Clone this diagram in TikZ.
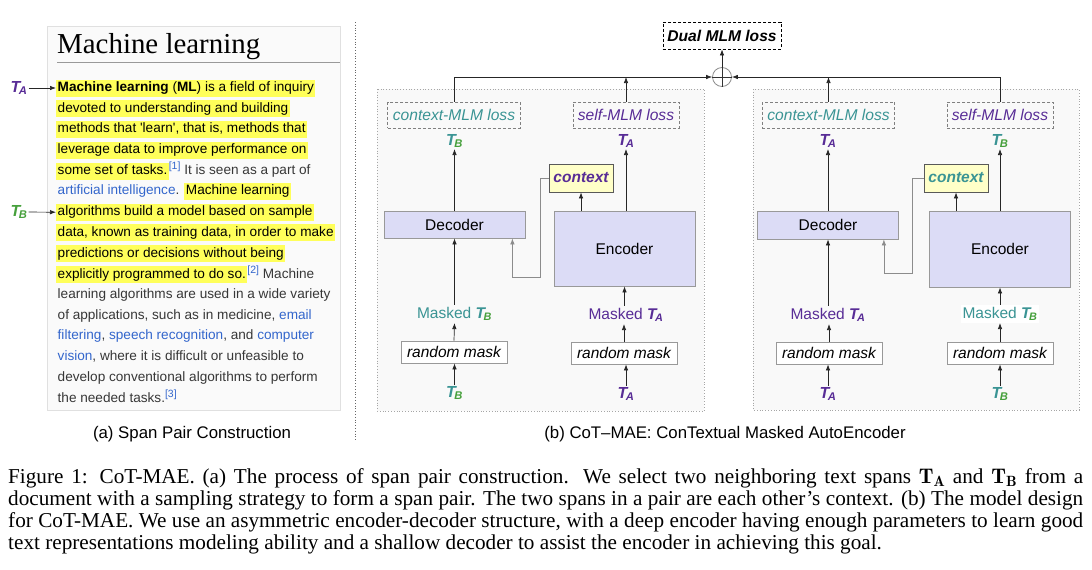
\documentclass[tikz,border=0pt]{standalone}
\usepackage{fontspec}
\usetikzlibrary{arrows.meta}
\newfontfamily\sansfam{Liberation Sans}
\newfontfamily\capfam{Liberation Serif}
\definecolor{tpurple}{RGB}{88,44,150}
\definecolor{tteal}{RGB}{58,148,148}
\definecolor{tgreen}{RGB}{70,160,60}
\definecolor{hlyellow}{RGB}{255,255,90}
\definecolor{wikiblue}{RGB}{51,102,204}
\definecolor{wikitext}{RGB}{55,55,55}
\definecolor{lav}{RGB}{220,220,246}
\definecolor{ctxfill}{RGB}{255,255,200}
\definecolor{panelbg}{RGB}{249,249,249}
\newcommand{\TA}{{\bfseries\itshape\color{tpurple}T\kern-1.5pt\textsubscript{A}}}
\newcommand{\TB}[1][tteal]{{\bfseries\itshape\textcolor{#1}{T}\kern-1.5pt\textsubscript{\color{tgreen}B}}}
\newcommand{\hlt}[1]{{\setlength{\fboxsep}{0pt}\colorbox{hlyellow}{\kern1.5pt\color{black}\strut#1\kern1.5pt}}}
\newcommand{\wlink}[1]{\textcolor{wikiblue}{#1}}
\newcommand{\wref}[1]{\raisebox{5pt}{\fontsize{10.5}{12}\selectfont\color{wikiblue}[#1]}}
\tikzset{
	wline/.style={anchor=west,inner sep=0pt,text=wikitext,font=\sansfam\fontsize{13.6}{17}\selectfont,execute at begin node=\strut},
	arr/.style={-{Latex[length=6pt,width=4.5pt]},draw=black!85,line width=0.7pt},
	route/.style={arr,draw=black!45},
	panel/.style={fill=panelbg,draw=black!35,dotted,line width=0.8pt},
	lossbox/.style={draw=black!50,dash pattern=on 3pt off 2pt,line width=0.8pt,minimum height=26pt,inner xsep=5pt,font=\sansfam\itshape\fontsize{15.6}{18}\selectfont},
	coder/.style={fill=lav,draw=black!40,line width=0.8pt,minimum width=141pt,font=\sansfam\fontsize{15.5}{18}\selectfont},
	ctxbox/.style={fill=ctxfill,draw=black!65,line width=0.8pt,minimum width=64pt,minimum height=28pt,inner sep=0pt,font=\sansfam\bfseries\itshape\fontsize{15.5}{18}\selectfont},
	maskbox/.style={fill=white,draw=black!40,line width=0.8pt,minimum width=106pt,minimum height=22pt,inner sep=0pt,font=\sansfam\itshape\fontsize{15.5}{18}\selectfont},
	tlab/.style={inner sep=1pt,font=\sansfam\fontsize{16}{18}\selectfont},
	mlab/.style={inner sep=2pt,font=\sansfam\fontsize{15.5}{18}\selectfont}
}
\begin{document}
\begin{tikzpicture}[x=1pt,y=-1pt]
\useasboundingbox (0,0) rectangle (1092,570);

\draw[fill=black!2,draw=black!12] (47,26) rectangle (340,410);
\node[anchor=base west,inner sep=0pt,font=\capfam\fontsize{28.9}{30}\selectfont] (title) at (57,53) {Machine learning};
\draw[black!40] (57,62) -- (340,62);
\node[wline] (l1) at (56,88) {\hlt{\textbf{Machine learning} (\textbf{ML}) is a field of inquiry}};
\node[wline] (l2) at (56,108.7) {\hlt{devoted to understanding and building}};
\node[wline] (l3) at (56,129.4) {\hlt{methods that 'learn', that is, methods that}};
\node[wline] (l4) at (56,150.1) {\hlt{leverage data to improve performance on}};
\node[wline] (l5) at (56,170.8) {\hlt{some set of tasks.}\wref{1} It is seen as a part of};
\node[wline] (l6) at (56,191.5) {\kern1.5pt\wlink{artificial intelligence}. \hlt{Machine learning}};
\node[wline] (l7) at (56,212.2) {\hlt{algorithms build a model based on sample}};
\node[wline] (l8) at (56,232.9) {\hlt{data, known as training data, in order to make}};
\node[wline] (l9) at (56,253.6) {\hlt{predictions or decisions without being}};
\node[wline] (l10) at (56,274.3) {\hlt{explicitly programmed to do so.}\wref{2} Machine};
\node[wline] (l11) at (56,295) {\kern1.5pt learning algorithms are used in a wide variety};
\node[wline] (l12) at (56,315.7) {\kern1.5pt of applications, such as in medicine, \wlink{email}};
\node[wline] (l13) at (56,336.4) {\kern1.5pt\wlink{filtering}, \wlink{speech recognition}, and \wlink{computer}};
\node[wline] (l14) at (56,357.1) {\kern1.5pt\wlink{vision}, where it is difficult or unfeasible to};
\node[wline] (l15) at (56,377.8) {\kern1.5pt develop conventional algorithms to perform};
\node[wline] (l16) at (56,398.5) {\kern1.5pt the needed tasks.\wref{3}};
\node[tlab] (mA) at (19,88) {\TA};
\node[tlab] (mB) at (19,212) {\TB[tgreen]};
\draw[arr] (mA) -- (l1.west);
\draw[arr] (mB) -- (l7.west);
\node[font=\sansfam\fontsize{16.8}{18}\selectfont] (capa) at (192,434) {(a) Span Pair Construction};

\draw[black!60,dotted,line width=0.8pt] (355,22) -- (355,440);

\draw[panel] (377,89) rectangle (704,411);
\draw[panel] (753,89) rectangle (1079,410);

\node[draw=black,dash pattern=on 3pt off 2pt,line width=0.8pt,minimum height=27pt,inner xsep=4.5pt,font=\sansfam\bfseries\itshape\fontsize{15.6}{18}\selectfont] (dual) at (722,35.5) {Dual MLM loss};
\node[circle,draw=black!45,line width=0.8pt,minimum size=19pt,inner sep=0pt] (plus) at (722,77) {};
\draw[black!80,line width=0.7pt] (plus.north) -- (plus.south) (plus.west) -- (plus.east);
\draw[arr] (plus.north) -- (dual.south);

\node[lossbox,text=tteal] (lossCL) at (454,115) {context-MLM loss};
\node[lossbox,text=tpurple] (lossSL) at (626,115) {self-MLM loss};
\node[tlab] (tBoutL) at (454.5,141) {\TB};
\node[tlab] (tAoutL) at (626,141) {\TA};
\node[ctxbox,text=tpurple] (ctxL) at (581,178) {context};
\node[coder,minimum height=27pt] (decL) at (454.5,224.5) {Decoder};
\node[coder,minimum height=75pt] (encL) at (624.5,248.5) {Encoder};
\node[mlab,text=tteal] (mTBL) at (454.5,314) {Masked \TB};
\node[mlab,text=tpurple] (mTAL) at (626,315) {Masked \TA};
\node[maskbox] (rmBL) at (454,352) {random mask};
\node[maskbox] (rmAL) at (624,353) {random mask};
\node[tlab] (tBinL) at (454.5,393) {\TB};
\node[tlab] (tAinL) at (626,394) {\TA};

\node[lossbox,text=tteal] (lossCR) at (828.5,115) {context-MLM loss};
\node[lossbox,text=tpurple] (lossSR) at (1000,115) {self-MLM loss};
\node[tlab] (tAoutR) at (828,141) {\TA};
\node[tlab] (tBoutR) at (1000,141) {\TB};
\node[ctxbox,text=tteal] (ctxR) at (956,178) {context};
\node[coder,minimum height=28pt] (decR) at (828,225) {Decoder};
\node[coder,minimum height=76pt] (encR) at (1000,249) {Encoder};
\node[mlab,text=tpurple] (mTAR) at (828,315) {Masked \TA};
\node[mlab,text=tteal,fill=white] (mTBR) at (1000,314) {Masked \TB};
\node[maskbox] (rmAR) at (829,353) {random mask};
\node[maskbox] (rmBR) at (1000,353) {random mask};
\node[tlab] (tAinR) at (828,394) {\TA};
\node[tlab] (tBinR) at (1000,394) {\TB};

\draw[arr] (lossCL.north) |- (plus.west);
\draw[arr] (lossSL.north) -- (lossSL.north |- plus.west);
\draw[arr] (lossSR.north) |- (plus.east);
\draw[arr] (lossCR.north) -- (lossCR.north |- plus.east);

\draw[arr] (decL.north) -- (tBoutL.south);
\draw[arr] (tAoutL.south |- encL.north) -- (tAoutL.south);
\draw[arr] (ctxL.south |- encL.north) -- (ctxL.south);
\draw[route] (ctxL.west) -| ++(-8,99) -| ([xshift=-13pt]decL.south east);
\draw[arr] (mTBL.north) -- (decL.south);
\draw[arr] (mTAL.north -| encL.south) -- (encL.south);
\draw[arr] (rmBL.north) -- (mTBL.south);
\draw[arr] (rmAL.north) -- (rmAL.north |- mTAL.south);
\draw[arr] (tBinL.north) -- (tBinL.north |- rmBL.south);
\draw[arr] (tAinL.north) -- (tAinL.north |- rmAL.south);

\draw[arr] (decR.north) -- (tAoutR.south);
\draw[arr] (tBoutR.south |- encR.north) -- (tBoutR.south);
\draw[arr] (ctxR.south |- encR.north) -- (ctxR.south);
\draw[route] (ctxR.west) -| ++(-11,95) -| ([xshift=-15pt]decR.south east);
\draw[arr] (mTAR.north) -- (decR.south);
\draw[arr] (mTBR.north) -- (encR.south);
\draw[arr] (rmAR.north) -- (rmAR.north |- mTAR.south);
\draw[arr] (rmBR.north) -- (mTBR.south);
\draw[arr] (tAinR.north) -- (tAinR.north |- rmAR.south);
\draw[arr] (tBinR.north) -- (rmBR.south);

\node[font=\sansfam\fontsize{16.8}{18}\selectfont] (capb) at (725,434) {(b) CoT–MAE: ConTextual Masked AutoEncoder};

\node[anchor=north west,inner sep=0pt,text width=1075pt,align=justify,font=\capfam\fontsize{21.2}{22}\selectfont] (cap) at (8,468.5) {Figure 1: CoT-MAE. (a) The process of span pair construction. We select two neighboring text spans $\mathbf{T_A}$ and $\mathbf{T_B}$ from a\linebreak document with a sampling strategy to form a span pair. The two spans in a pair are each other’s context. (b) The model design\linebreak for CoT-MAE. We use an asymmetric encoder-decoder structure, with a deep encoder having enough parameters to learn good\linebreak text representations modeling ability and a shallow decoder to assist the encoder in achieving this goal.};
\end{tikzpicture}
\end{document}
